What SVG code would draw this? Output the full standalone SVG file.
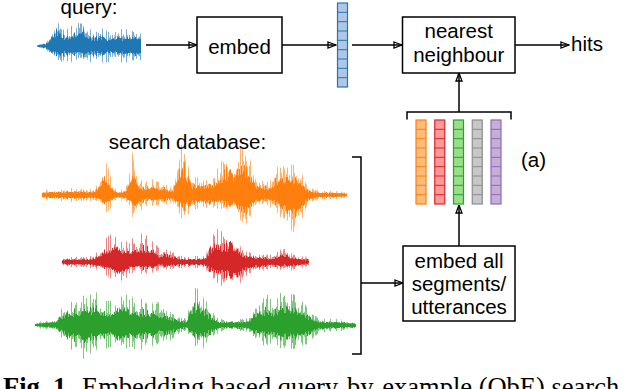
<svg xmlns="http://www.w3.org/2000/svg" xmlns:xlink="http://www.w3.org/1999/xlink" width="640" height="389" viewBox="0 0 640 389">
<style>
text{font-family:"Liberation Sans",Arial,sans-serif;font-size:20.5px;fill:#000}
.mid{text-anchor:middle}
.box{fill:#fff;stroke:#000;stroke-width:1.5}
.conn{fill:none;stroke:#000;stroke-width:1.5}
.arr{marker-end:url(#ah)}
.cap{font-family:"Liberation Serif","Times New Roman",serif;font-size:26.5px}
</style>
<defs>
<marker id="ah" viewBox="0 0 10 8" refX="9.5" refY="4" markerWidth="10" markerHeight="8" markerUnits="userSpaceOnUse" orient="auto">
<path d="M1.5,1 L9.5,4 L1.5,7 Z" fill="none" stroke="#000" stroke-width="1.3"/>
</marker>
<g id="vec">
<rect x="0" y="0" width="10" height="84" stroke-width="1.2"/>
<path d="M0,9.33h10M0,18.67h10M0,28h10M0,37.33h10M0,46.67h10M0,56h10M0,65.33h10M0,74.67h10" fill="none" stroke-width="1"/>
</g>

<linearGradient id="sB"><stop offset="0" stop-color="#000"/><stop offset="1" stop-color="#0f0"/></linearGradient>
<linearGradient id="sF"><stop offset="0" stop-color="#f00"/><stop offset="1" stop-color="#ff0"/></linearGradient>
<linearGradient id="bQ" xlink:href="#sB" gradientUnits="userSpaceOnUse" x1="0" y1="-4" x2="0" y2="96"/>
<linearGradient id="fQ" xlink:href="#sF" gradientUnits="userSpaceOnUse" x1="0" y1="-4" x2="0" y2="96"/>
<linearGradient id="bO" xlink:href="#sB" gradientUnits="userSpaceOnUse" x1="0" y1="145" x2="0" y2="245"/>
<linearGradient id="fO" xlink:href="#sF" gradientUnits="userSpaceOnUse" x1="0" y1="145" x2="0" y2="245"/>
<linearGradient id="bR" xlink:href="#sB" gradientUnits="userSpaceOnUse" x1="0" y1="212" x2="0" y2="312"/>
<linearGradient id="fR" xlink:href="#sF" gradientUnits="userSpaceOnUse" x1="0" y1="212" x2="0" y2="312"/>
<linearGradient id="bG" xlink:href="#sB" gradientUnits="userSpaceOnUse" x1="0" y1="275" x2="0" y2="375"/>
<linearGradient id="fG" xlink:href="#sF" gradientUnits="userSpaceOnUse" x1="0" y1="275" x2="0" y2="375"/>

<filter id="wvA" x="0" y="0" width="1" height="1" color-interpolation-filters="sRGB">
<feTurbulence type="fractalNoise" baseFrequency="0.8 0.001" numOctaves="2" seed="4" result="t"/>
<feColorMatrix in="t" type="matrix" values="0 1 0 0 0  0 1 0 0 0  0 1 0 0 0  0 0 0 0 1" result="n"/>
<feComponentTransfer in="n" result="p"><feFuncR type="linear" slope="2.5" intercept="-0.85"/><feFuncG type="linear" slope="2.5" intercept="-0.85"/><feFuncB type="linear" slope="2.5" intercept="-0.85"/></feComponentTransfer>
<feComposite in="SourceGraphic" in2="p" operator="arithmetic" k1="1" k2="0" k3="0" k4="0" result="prod"/>
<feColorMatrix in="prod" type="matrix" values="0 1 0 0 0  0 0 0 0 0  0 0 0 0 0  0 0 0 0 1" result="a1"/>
<feColorMatrix in="SourceGraphic" type="matrix" values="0 0 0 0 0  0 1 0 0 0  0 0 0 0 0  0 0 0 0 1" result="a2"/>
<feColorMatrix in="p" type="matrix" values="0 0 0 0 0  0 0 0 0 0  0 0 1 0 0  0 0 0 0 1" result="a3"/>
<feComposite in="a1" in2="a2" operator="arithmetic" k1="0" k2="1" k3="1" k4="0" result="z1"/>
<feComposite in="z1" in2="a3" operator="arithmetic" k1="0" k2="1" k3="1" k4="0" result="z2"/>
<feColorMatrix in="z2" type="matrix" values="0 0 0 0 0.5  1.3 -0.3 -0.65 0 0.65  0 0 0 0 0  0 0 0 0 1" result="map"/>
<feColorMatrix in="SourceGraphic" type="matrix" values="0 0 0 0 1  0 0 0 0 1  0 0 0 0 1  1 0 0 0 0" result="env"/>
<feDisplacementMap in="env" in2="map" scale="100" xChannelSelector="R" yChannelSelector="G"/>
</filter>
<filter id="wvB" x="0" y="0" width="1" height="1" color-interpolation-filters="sRGB">
<feTurbulence type="fractalNoise" baseFrequency="0.9 0.001" numOctaves="2" seed="17" result="t"/>
<feColorMatrix in="t" type="matrix" values="0 1 0 0 0  0 1 0 0 0  0 1 0 0 0  0 0 0 0 1" result="n"/>
<feComponentTransfer in="n" result="p"><feFuncR type="linear" slope="2.5" intercept="-0.85"/><feFuncG type="linear" slope="2.5" intercept="-0.85"/><feFuncB type="linear" slope="2.5" intercept="-0.85"/></feComponentTransfer>
<feComposite in="SourceGraphic" in2="p" operator="arithmetic" k1="1" k2="0" k3="0" k4="0" result="prod"/>
<feColorMatrix in="prod" type="matrix" values="0 1 0 0 0  0 0 0 0 0  0 0 0 0 0  0 0 0 0 1" result="a1"/>
<feColorMatrix in="SourceGraphic" type="matrix" values="0 0 0 0 0  0 1 0 0 0  0 0 0 0 0  0 0 0 0 1" result="a2"/>
<feColorMatrix in="p" type="matrix" values="0 0 0 0 0  0 0 0 0 0  0 0 1 0 0  0 0 0 0 1" result="a3"/>
<feComposite in="a1" in2="a2" operator="arithmetic" k1="0" k2="1" k3="1" k4="0" result="z1"/>
<feComposite in="z1" in2="a3" operator="arithmetic" k1="0" k2="1" k3="1" k4="0" result="z2"/>
<feColorMatrix in="z2" type="matrix" values="0 0 0 0 0.5  1.2 0.15 -0.6 0 0.425  0 0 0 0 0  0 0 0 0 1" result="map"/>
<feColorMatrix in="SourceGraphic" type="matrix" values="0 0 0 0 1  0 0 0 0 1  0 0 0 0 1  1 0 0 0 0" result="env"/>
<feDisplacementMap in="env" in2="map" scale="100" xChannelSelector="R" yChannelSelector="G"/>
</filter>

<path id="wQ" d="M37,45 L42,44 46,43 49,39 52,33 55,28 58,23 61,30 64,33 67,34 70,33 73,31 76,30 79,25 82,22 85,30 88,33 92,34 96,35 100,33 104,34 108,36 112,35 116,34 120,33 124,35 128,34 132,33 136,34 141,35 L141,58 136,59 132,58 128,57 124,58 120,57 116,56 112,57 108,57 104,58 100,57 96,57 92,58 88,57 85,60 82,58 79,57 76,58 73,58 70,57 67,58 64,58 61,60 58,59 55,57 52,55 49,53 46,49 42,48 37,47 Z"/>
<path id="wO" d="M42,192 L50,191 60,191 70,190 80,190 90,191 95,190 98,186 101,178 104,171 107,173 110,180 114,189 118,192 124,191 127,188 130,173 133,164 136,172 139,182 143,186 148,185 153,184 158,186 163,185 168,189 173,190 176,180 179,165 182,158 185,157 188,168 191,180 196,183 201,182 206,183 211,181 216,178 220,174 224,166 228,161 232,168 236,164 240,163 243,158 246,162 250,170 254,176 258,183 263,183 268,186 272,182 275,174 278,172 282,173 286,172 290,173 294,174 298,176 302,180 306,187 310,190 320,192 335,192 347,193 L347,197 335,198 320,198 310,200 306,204 302,212 298,218 294,221 290,219 286,215 282,213 278,210 275,207 272,205 268,202 263,203 258,204 254,206 250,212 246,218 243,216 240,212 236,210 232,207 228,211 224,206 220,204 216,205 211,206 206,205 201,204 196,205 191,207 188,212 185,213 182,212 179,208 176,203 173,200 168,201 163,203 158,202 153,203 148,202 143,204 139,208 136,212 133,211 130,205 127,200 124,199 118,198 114,200 110,205 107,207 104,207 101,203 98,200 95,200 90,199 80,200 70,200 60,199 50,199 42,198 Z"/>
<path id="wR" d="M62,259 L70,258 80,258 90,258 95,257 100,252 105,246 110,243 115,240 119,246 123,249 128,247 133,245 138,243 143,242 148,244 152,247 156,250 160,253 165,252 170,254 175,256 180,258 190,258 200,258 206,257 208,250 211,242 215,238 220,240 225,241 229,237 233,240 237,246 241,252 245,255 250,254 255,256 260,255 265,256 270,257 275,255 280,253 285,252 290,256 295,257 300,258 309,259 L309,265 300,266 295,267 290,268 285,267 280,268 275,268 270,267 265,268 260,270 255,269 250,271 245,272 241,276 237,280 233,282 229,280 225,280 220,278 215,276 211,274 208,272 206,267 200,266 190,266 180,266 175,266 170,267 165,268 160,267 156,268 152,270 148,270 143,271 138,269 133,270 128,272 123,275 119,276 115,275 110,273 105,271 100,268 95,267 90,266 80,266 70,266 62,265 Z"/>
<path id="wG" d="M35,323 L45,322 55,321 58,318 62,312 66,309 70,310 75,306 80,305 85,303 90,304 95,301 100,305 105,308 110,308 115,308 120,304 125,303 130,305 135,306 140,307 145,307 150,309 155,310 160,309 165,312 170,316 175,318 180,320 185,320 188,316 191,305 195,299 199,300 203,304 207,308 211,313 215,318 219,321 225,321 235,321 245,321 250,319 253,313 257,306 262,305 268,303 273,305 278,302 283,302 288,304 293,303 298,306 303,309 308,313 313,318 318,320 325,321 335,321 345,322 356,323 L356,328 345,329 335,329 325,330 318,331 313,334 308,338 303,339 298,341 293,342 288,341 283,342 278,342 273,341 268,340 262,339 257,338 253,335 250,331 245,329 235,329 225,329 219,330 215,332 211,336 207,338 203,342 199,341 195,340 191,336 188,331 185,330 180,330 175,333 170,336 165,338 160,337 155,339 150,340 145,341 140,343 135,344 130,342 125,341 120,344 115,341 110,340 105,342 100,341 95,343 90,345 85,350 80,346 75,344 70,342 66,340 62,336 58,331 55,329 45,328 35,327 Z"/>

<mask id="mQa"><g filter="url(#wvA)"><rect x="30" y="-4" width="120" height="100" fill="url(#bQ)"/><use xlink:href="#wQ" fill="url(#fQ)"/></g></mask>
<mask id="mQb"><g filter="url(#wvB)"><rect x="30" y="-4" width="120" height="100" fill="url(#bQ)"/><use xlink:href="#wQ" fill="url(#fQ)"/></g></mask>
<mask id="mOa"><g filter="url(#wvA)"><rect x="30" y="145" width="330" height="100" fill="url(#bO)"/><use xlink:href="#wO" fill="url(#fO)"/></g></mask>
<mask id="mOb"><g filter="url(#wvB)"><rect x="30" y="145" width="330" height="100" fill="url(#bO)"/><use xlink:href="#wO" fill="url(#fO)"/></g></mask>
<mask id="mRa"><g filter="url(#wvA)"><rect x="30" y="212" width="330" height="100" fill="url(#bR)"/><use xlink:href="#wR" fill="url(#fR)"/></g></mask>
<mask id="mRb"><g filter="url(#wvB)"><rect x="30" y="212" width="330" height="100" fill="url(#bR)"/><use xlink:href="#wR" fill="url(#fR)"/></g></mask>
<mask id="mGa"><g filter="url(#wvA)"><rect x="30" y="275" width="330" height="100" fill="url(#bG)"/><use xlink:href="#wG" fill="url(#fG)"/></g></mask>
<mask id="mGb"><g filter="url(#wvB)"><rect x="30" y="275" width="330" height="100" fill="url(#bG)"/><use xlink:href="#wG" fill="url(#fG)"/></g></mask>
</defs>

<g id="waveforms">
<g id="wave-query">
<rect x="30" y="-4" width="120" height="100" fill="#1f77b4" fill-opacity="0.6" mask="url(#mQa)"/>
<rect x="30" y="-4" width="120" height="100" fill="#1f77b4" mask="url(#mQb)"/>
</g>
<g id="wave-orange">
<rect x="30" y="145" width="330" height="100" fill="#ff7f0e" fill-opacity="0.6" mask="url(#mOa)"/>
<rect x="30" y="145" width="330" height="100" fill="#ff7f0e" mask="url(#mOb)"/>
</g>
<g id="wave-red">
<rect x="30" y="212" width="330" height="100" fill="#d62728" fill-opacity="0.55" mask="url(#mRa)"/>
<rect x="30" y="212" width="330" height="100" fill="#d62728" mask="url(#mRb)"/>
</g>
<g id="wave-green">
<rect x="30" y="275" width="330" height="100" fill="#2ca02c" fill-opacity="0.6" mask="url(#mGa)"/>
<rect x="30" y="275" width="330" height="100" fill="#2ca02c" mask="url(#mGb)"/>
</g>
</g>

<g id="connectors">
<path class="conn arr" d="M146,45 H197"/>
<path class="conn arr" d="M282,45 H336"/>
<path class="conn arr" d="M352,45 H402"/>
<path class="conn arr" d="M515,45 H569"/>
<path class="conn arr" d="M459,112 V73"/>
<path class="conn arr" d="M459,246 V205"/>
<path class="conn arr" d="M361,283 H403"/>
<path class="conn" d="M407,119.5 V112 H511 V119.5"/>
<path class="conn" d="M352,157 H361 V354 H352"/>
</g>

<g id="label-query"><text class="mid" x="89" y="14">query:</text></g>
<g id="node-embed">
<rect class="box" x="197" y="17" width="85" height="56"/>
<text class="mid" x="239.5" y="54">embed</text>
</g>
<g id="node-query-vector">
<use xlink:href="#vec" x="337.5" y="3" fill="#aec7e8" stroke="#1f77b4"/>
</g>
<g id="node-nn">
<rect class="box" x="402.5" y="17" width="112.5" height="56"/>
<text class="mid" x="458.75" y="37.5">nearest</text>
<text class="mid" x="458.75" y="61.5">neighbour</text>
</g>
<g id="label-hits"><text x="571" y="51">hits</text></g>
<g id="node-db-vectors">
<use xlink:href="#vec" x="416" y="120" fill="#ffbb78" stroke="#ff7f0e"/>
<use xlink:href="#vec" x="434.75" y="120" fill="#ff9896" stroke="#d62728"/>
<use xlink:href="#vec" x="453.5" y="120" fill="#98df8a" stroke="#2ca02c"/>
<use xlink:href="#vec" x="472.25" y="120" fill="#c7c7c7" stroke="#8c8c8c"/>
<use xlink:href="#vec" x="491" y="120" fill="#c5b0d5" stroke="#9467bd"/>
</g>
<g id="label-a"><text x="521" y="167">(a)</text></g>
<g id="label-db"><text class="mid" x="187.5" y="149">search database:</text></g>
<g id="node-embed-all">
<rect class="box" x="403" y="246" width="112" height="75"/>
<text class="mid" x="459" y="268">embed all</text>
<text class="mid" x="459" y="291">segments/</text>
<text class="mid" x="459" y="313.5">utterances</text>
</g>
<g id="caption">
<text class="cap" x="3" y="396"><tspan font-weight="bold">Fig. 1.</tspan><tspan x="82">Embedding based query-by-example (QbE) search</tspan></text>
</g>
</svg>
